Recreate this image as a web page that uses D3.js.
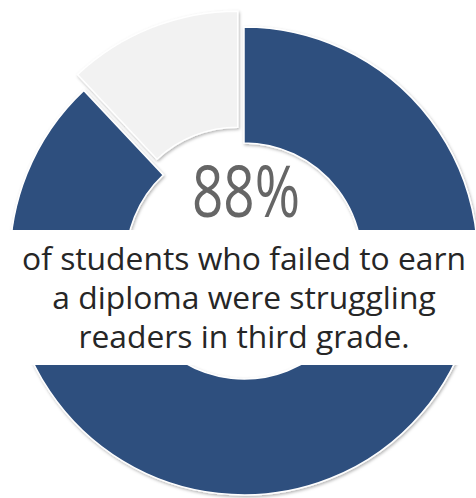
<!DOCTYPE html>
<html>
<head>
<meta charset="utf-8">
<script src="https://cdn.jsdelivr.net/npm/d3@7.9.0/dist/d3.min.js"></script>
<style>
  html, body { margin: 0; padding: 0; background: #fff; }
  svg { display: block; }
</style>
</head>
<body>
<svg id="chart" width="476" height="498"></svg>
<script>
const labels = ['struggling readers', 'other'];
const values = [88, 12];
const colorsList = ['#2e4f7e', '#f2f2f2'];
const bigLabel = '88%';
const lines = [
  'of students who failed to earn',
  'a diploma were struggling',
  'readers in third grade.'
];

const width = 476, height = 498;
const cx = 244, cy = 261;
const outerR = 234, innerR = 118;
const explode = 17;

let svg = d3.select('#chart');

let defs = svg.append('defs');
let filter = defs.append('filter')
  .attr('id', 'shadow')
  .attr('x', '-10%').attr('y', '-10%')
  .attr('width', '120%').attr('height', '120%');
filter.append('feDropShadow')
  .attr('dx', 1).attr('dy', 1.5)
  .attr('stdDeviation', 1.5)
  .attr('flood-color', '#000')
  .attr('flood-opacity', 0.3);

let color = d3.scaleOrdinal().domain(labels).range(colorsList);

let pie = d3.pie().sort(null).value(d => d.value);
let arc = d3.arc().innerRadius(innerR).outerRadius(outerR);

let data = labels.map((l, i) => ({ label: l, value: values[i] }));
let arcData = pie(data);

let g = svg.append('g').attr('transform', `translate(${cx},${cy})`);

g.selectAll('path')
  .data(arcData)
  .join('path')
  .attr('d', arc)
  .attr('fill', d => color(d.data.label))
  .attr('stroke', '#fff')
  .attr('stroke-width', 1.5)
  .attr('filter', 'url(#shadow)')
  .attr('transform', (d, i) => {
    if (i === 0) return null;
    let mid = (d.startAngle + d.endAngle) / 2;
    return `translate(${Math.sin(mid) * explode},${-Math.cos(mid) * explode})`;
  });

// white band behind the caption
svg.append('rect')
  .attr('x', 0).attr('y', 230)
  .attr('width', width).attr('height', 135)
  .attr('fill', '#fff');

svg.append('text')
  .attr('x', cx + 2)
  .attr('y', 217)
  .attr('text-anchor', 'middle')
  .attr('font-family', 'Open Sans, sans-serif')
  .attr('font-size', 72)
  .attr('fill', '#666')
  .attr('textLength', 108)
  .attr('lengthAdjust', 'spacingAndGlyphs')
  .text(bigLabel);

let caption = svg.append('g')
  .attr('font-family', 'Open Sans, sans-serif')
  .attr('fill', '#262626')
  .attr('text-anchor', 'middle');

let baselines = [270, 309, 348];
lines.forEach((t, i) => {
  caption.append('text')
    .attr('x', cx)
    .attr('y', baselines[i])
    .attr('font-size', 30)
    .text(t);
});

// fit first line to ~444px wide, keep same size for all
let w = caption.select('text').node().getComputedTextLength();
let fs = 30 * 444 / w;
caption.selectAll('text').attr('font-size', fs);
</script>
</body>
</html>
